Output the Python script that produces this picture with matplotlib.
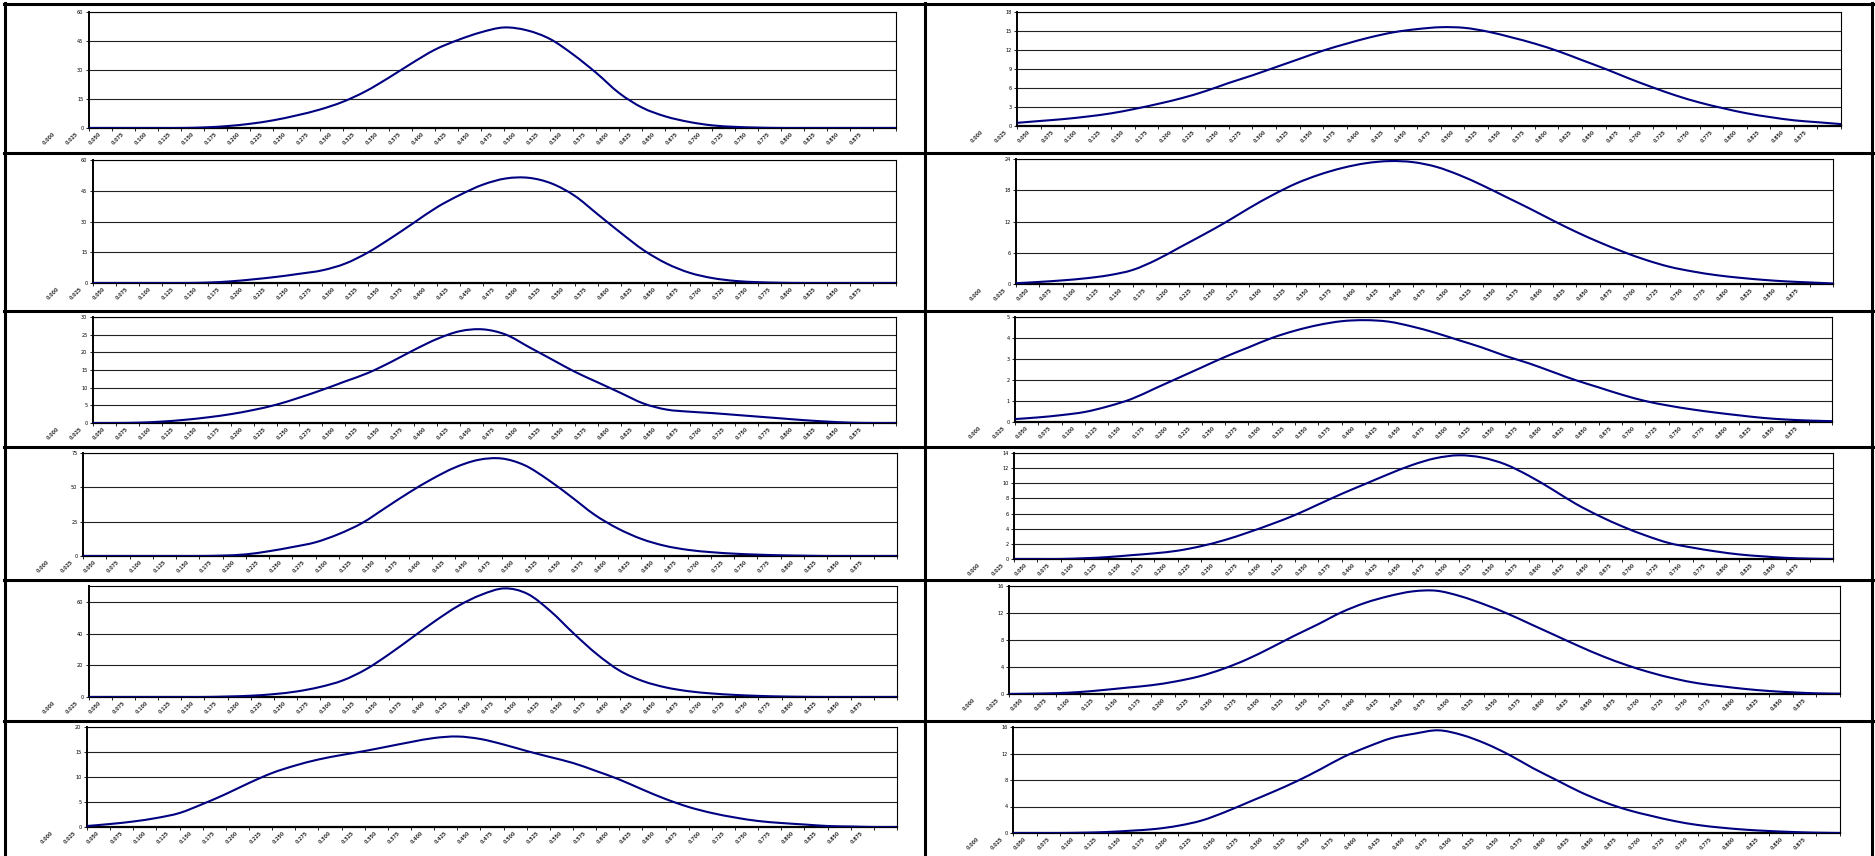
#!/usr/bin/python
# Twelve small distribution charts laid out in a 6x2 table, Excel style.

import numpy as np
import matplotlib as mpl
import matplotlib.pyplot as pl
from matplotlib.lines import Line2D
from matplotlib.path import Path
from matplotlib.patches import PathPatch
from matplotlib.transforms import ScaledTranslation, blended_transform_factory

W, H = 1875, 856

# category labels along x (same for every chart)
xlabels = ["0.000", "0.025", "0.050", "0.075", "0.100", "0.125", "0.150", "0.175", "0.200",
           "0.225", "0.250", "0.275", "0.300", "0.325", "0.350", "0.375", "0.400", "0.425",
           "0.450", "0.475", "0.500", "0.525", "0.550", "0.575", "0.600", "0.625", "0.650",
           "0.675", "0.700", "0.725", "0.750", "0.775", "0.800", "0.825", "0.850", "0.875"]

# left column, top to bottom
L1 = [0, 0, 0, 0, 0, 0.3, 1.0, 2.2, 4.0, 6.5, 9.5, 13.5, 19, 26, 33.5, 40.5, 45.5, 49.5,
      52, 50.5, 46, 38, 28.5, 18, 10.5, 6, 3.2, 1.4, 0.6, 0.2, 0, 0, 0, 0, 0, 0]
L2 = [0, 0, 0, 0, 0, 0.2, 0.8, 1.8, 3.0, 4.5, 6.2, 9.5, 15, 22, 29.5, 37, 43, 48,
      51, 51.3, 48.5, 42.5, 33.5, 24.5, 16, 9.5, 5, 2.4, 1, 0.4, 0.1, 0, 0, 0, 0, 0]
L3 = [0, 0, 0.1, 0.4, 0.9, 1.6, 2.5, 3.7, 5.2, 7.2, 9.4, 11.8, 14.2, 17.3, 20.7, 23.8, 26, 26.5,
      25, 21.5, 18, 14.5, 11.5, 8.5, 5.5, 3.8, 3.2, 2.8, 2.3, 1.8, 1.3, 0.8, 0.4, 0.1, 0, 0]
L4 = [0, 0, 0, 0, 0, 0, 0.3, 1.2, 3.5, 6.5, 10, 16, 24, 35, 46, 56, 64.5, 70,
      71, 66, 55.5, 43, 30, 20, 12.5, 7.5, 4.5, 2.8, 1.7, 1.0, 0.5, 0.2, 0, 0, 0, 0]
L5 = [0, 0, 0, 0, 0, 0, 0.3, 0.8, 1.8, 3.5, 6.3, 10.5, 17.5, 27, 37.5, 48, 57.5, 64.5,
      68.5, 65, 54, 40, 27, 16.5, 10, 6, 3.6, 2.2, 1.3, 0.7, 0.3, 0.1, 0, 0, 0, 0]
L6 = [0.2, 0.6, 1.1, 1.8, 2.8, 4.6, 6.6, 8.8, 10.8, 12.3, 13.5, 14.4, 15.2, 16.1, 17.0, 17.8, 18.1, 17.6,
      16.5, 15.2, 14.0, 12.8, 11.2, 9.5, 7.5, 5.6, 4.0, 2.8, 1.9, 1.2, 0.8, 0.5, 0.2, 0.1, 0, 0]

# right column, top to bottom
R1 = [0.5, 0.8, 1.1, 1.5, 2.0, 2.7, 3.5, 4.4, 5.5, 6.8, 8.0, 9.3, 10.6, 11.9, 13.0, 14.0, 14.8, 15.3,
      15.6, 15.5, 14.9, 14.0, 13.0, 11.8, 10.4, 9.0, 7.5, 6.1, 4.8, 3.7, 2.8, 2.0, 1.4, 0.9, 0.6, 0.3]
R2 = [0.15, 0.4, 0.7, 1.1, 1.7, 2.7, 4.6, 7.0, 9.4, 11.9, 14.6, 17.1, 19.3, 21.0, 22.3, 23.2, 23.6, 23.4,
      22.5, 20.9, 18.9, 16.7, 14.5, 12.2, 10.0, 8.0, 6.2, 4.6, 3.3, 2.4, 1.7, 1.2, 0.8, 0.5, 0.3, 0.1]
R3 = [0.14, 0.22, 0.33, 0.48, 0.75, 1.1, 1.6, 2.1, 2.6, 3.1, 3.55, 4.0, 4.35, 4.62, 4.8, 4.85, 4.78, 4.55,
      4.25, 3.9, 3.55, 3.15, 2.8, 2.4, 2.0, 1.65, 1.3, 1.0, 0.78, 0.6, 0.45, 0.32, 0.2, 0.12, 0.07, 0.04]
R4 = [0, 0, 0, 0.1, 0.25, 0.5, 0.75, 1.1, 1.7, 2.5, 3.5, 4.6, 5.8, 7.2, 8.6, 9.9, 11.2, 12.4,
      13.3, 13.7, 13.4, 12.5, 11.0, 9.2, 7.3, 5.7, 4.3, 3.1, 2.1, 1.5, 1.0, 0.6, 0.35, 0.15, 0.05, 0]
R5 = [0, 0.05, 0.12, 0.3, 0.6, 0.95, 1.3, 1.85, 2.6, 3.7, 5.1, 6.8, 8.6, 10.3, 12.1, 13.5, 14.5, 15.2,
      15.3, 14.5, 13.3, 11.9, 10.3, 8.7, 7.1, 5.6, 4.3, 3.2, 2.3, 1.6, 1.15, 0.75, 0.45, 0.25, 0.1, 0.05]
R6 = [0, 0, 0, 0.05, 0.15, 0.35, 0.6, 1.1, 1.9, 3.2, 4.7, 6.2, 7.8, 9.6, 11.5, 13.0, 14.3, 15.0,
      15.5, 14.8, 13.5, 11.8, 9.8, 8.0, 6.2, 4.7, 3.5, 2.6, 1.8, 1.2, 0.8, 0.5, 0.3, 0.15, 0.05, 0]

# y axis max and tick step per chart
L_ymax = [60, 60, 30, 75, 70, 20]
L_step = [15, 15, 5, 25, 20, 5]
R_ymax = [18, 24, 5, 14, 16, 16]
R_step = [3, 6, 1, 2, 4, 4]

# plot area boxes in pixels (left, top, right, bottom)
L_box = [(89, 12, 896, 128), (93, 160, 896, 283), (93, 317, 896, 423),
         (83, 453, 897, 556), (89, 586, 897, 697), (87, 727, 897, 827)]
R_box = [(1017, 12, 1841, 126), (1016, 159, 1833, 284), (1015, 317, 1832, 422),
         (1014, 453, 1833, 559), (1009, 586, 1840, 694), (1013, 727, 1840, 833)]

fig = pl.figure(figsize=(W / 100, H / 100), dpi=100)
fig.patch.set_facecolor("white")


def smooth_path(x, y):
    # Excel-like "smoothed line": cubic bezier segments through the data points
    pts = np.column_stack([x, y]).astype(float)
    ext = np.vstack([pts[0], pts, pts[-1]])
    verts = [pts[0]]
    codes = [Path.MOVETO]
    for i in range(len(pts) - 1):
        p0, p1, p2, p3 = ext[i], ext[i + 1], ext[i + 2], ext[i + 3]
        verts += [p1 + (p2 - p0) / 6.0, p2 - (p3 - p1) / 6.0, p2]
        codes += [Path.CURVE4] * 3
    return Path(verts, codes)


def small_chart(box, vals, ymax, step):
    l, t, r, b = box
    ax = fig.add_axes([l / W, 1 - b / H, (r - l) / W, (b - t) / H])
    x = np.arange(len(vals))
    ax.add_patch(PathPatch(smooth_path(x, vals), fill=False, edgecolor="#000080",
                           lw=1.5, capstyle="round", joinstyle="round", zorder=3))
    ax.set_xlim(0, len(vals) - 1)
    ax.set_ylim(0, ymax)
    yt = np.arange(0, ymax + 0.01, step)
    ax.set_yticks(yt)
    ax.set_yticklabels(["%g" % v for v in yt])
    for v in yt[1:]:
        ax.axhline(v, color="#222222", lw=0.8, zorder=0)
    ax.set_xticks(x)
    ax.set_xticklabels([])
    # category labels sit a bit left of their ticks in the original
    trans = blended_transform_factory(ax.transData, ax.transAxes) + \
        ScaledTranslation(-0.36, -0.03, fig.dpi_scale_trans)
    for xi, lab in zip(x, xlabels):
        ax.text(xi, 0, lab, transform=trans, rotation=45, ha="right", va="top",
                fontsize=3.4, fontweight="bold", color="#333333",
                rotation_mode="anchor", clip_on=False)
    ax.tick_params(axis="x", length=2, width=0.6)
    ax.tick_params(axis="y", labelsize=3.6, length=2, width=0.6, pad=2)
    for s in ax.spines.values():
        s.set_linewidth(0.8)
    ax.spines["left"].set_linewidth(1.4)
    ax.spines["bottom"].set_linewidth(1.6)
    return ax


for i in range(6):
    small_chart(L_box[i], [L1, L2, L3, L4, L5, L6][i], L_ymax[i], L_step[i])
    small_chart(R_box[i], [R1, R2, R3, R4, R5, R6][i], R_ymax[i], R_step[i])


# table frame
def hline(y, x0=4, x1=1873):
    fig.add_artist(Line2D([x0 / W, x1 / W], [1 - y / H, 1 - y / H], color="black", lw=2.2))


def vline(x, y0=3, y1=856):
    fig.add_artist(Line2D([x / W, x / W], [1 - y0 / H, 1 - y1 / H], color="black", lw=2.2))


hline(4)
for y in [153, 311, 447, 580, 721]:
    hline(y)
vline(5)
vline(925)
vline(1872)

pl.savefig("out.png", dpi=100)
